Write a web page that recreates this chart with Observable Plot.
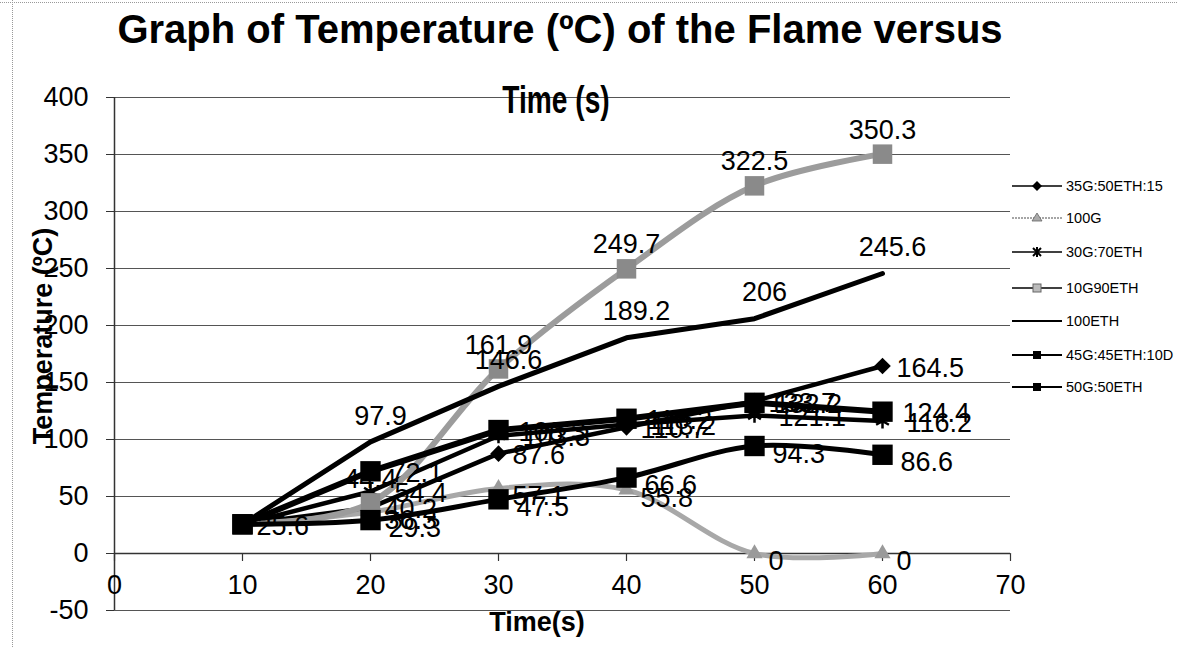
<!DOCTYPE html>
<html><head><meta charset="utf-8">
<script src="https://cdn.jsdelivr.net/npm/d3@7"></script>
<script src="https://cdn.jsdelivr.net/npm/@observablehq/plot@0.6"></script>
<style>
body{margin:0;background:#fff;font-family:"Liberation Sans",Arial,sans-serif;}
#wrap{position:relative;width:1177px;height:647px;overflow:hidden;background:#fff;}
#chart{position:absolute;left:0;top:0;}
#bl{position:absolute;left:12px;top:0;width:0;height:647px;border-left:1px dotted #999;}
#bt{position:absolute;left:0;top:2px;width:1177px;height:0;border-top:1px dotted #999;}
.t{position:absolute;font-weight:bold;color:#000;white-space:nowrap;}
#title1{left:560px;top:29px;font-size:40px;transform:translate(-50%,-50%);}
#title2{left:556px;top:100px;font-size:38px;transform:translate(-50%,-50%) scaleX(0.74);}
#ytitle{left:43px;top:336px;font-size:27px;transform:translate(-50%,-50%) rotate(-90deg);}
#xtitle{left:537px;top:622px;font-size:27px;transform:translate(-50%,-50%);}
#legend{position:absolute;left:1012px;top:0;}
.li{position:absolute;left:0;height:20px;display:flex;align-items:center;font-size:14.5px;white-space:nowrap;transform:translateY(-50%);}
.li svg{margin-right:2px;}
</style>
</head><body>
<div id="wrap">
  <div id="bl"></div><div id="bt"></div>
  <div id="chart"></div>
  <div class="t" id="title1">Graph of Temperature (ºC) of the Flame versus</div>
  <div class="t" id="title2">Time (s)</div>
  <div class="t" id="ytitle">Temperature (ºC)</div>
  <div class="t" id="xtitle">Time(s)</div>
  <div id="legend"></div>
</div>
<script>
// ---- data ----
const times = [10, 20, 30, 40, 50, 60];
const seriesNames = ["35G:50ETH:15", "100G", "30G:70ETH", "10G90ETH", "100ETH", "45G:45ETH:10D", "50G:50ETH"];
const s35G50ETH15 = [25.6, 40.2, 87.6, 110.7, 133.7, 164.5];
const s100G = [25.6, 36.3, 57.1, 55.8, 0, 0];
const s30G70ETH = [25.6, 54.4, 103.3, 113.2, 121.1, 116.2];
const s10G90ETH = [25.6, 44.4, 161.9, 249.7, 322.5, 350.3];
const s100ETH = [25.6, 97.9, 146.6, 189.2, 206, 245.6];
const s45G45ETH10D = [25.6, 72.1, 108.3, 118.2, 132.2, 124.4];
const s50G50ETH = [25.6, 29.3, 47.5, 66.6, 94.3, 86.6];
const xTicks = [0, 10, 20, 30, 40, 50, 60, 70];
const yTicks = [-50, 0, 50, 100, 150, 200, 250, 300, 350, 400];

const seriesValues = [s35G50ETH15, s100G, s30G70ETH, s10G90ETH, s100ETH, s45G45ETH10D, s50G50ETH];

// ---- styles ----
const styles = {
  "35G:50ETH:15": {stroke:"#000", sw:4.5, curve:"linear", symbol:"diamond2", r:7.5, fill:"#000", lab:{anchor:"start", dx:14, dy:2}},
  "100G": {stroke:"#a8a8a8", sw:5, curve:"catmull-rom", symbol:"triangle", r:6, fill:"#9a9a9a", lab:{anchor:"start", dx:14, dy:8}},
  "30G:70ETH": {stroke:"#000", sw:4.5, curve:"linear", symbol:"asterisk", r:7, fill:"none", lab:{anchor:"start", dx:24, dy:2}},
  "10G90ETH": {stroke:"#9c9c9c", sw:6, curve:"catmull-rom", symbol:"square", r:11, fill:"#8a8a8a", lab:{anchor:"middle", dx:0, dy:-24}},
  "100ETH": {stroke:"#000", sw:5, curve:"linear", symbol:null, lab:{anchor:"middle", dx:10, dy:-26}},
  "45G:45ETH:10D": {stroke:"#000", sw:6, curve:"linear", symbol:"square", r:11.5, fill:"#000", lab:{anchor:"start", dx:20, dy:2}},
  "50G:50ETH": {stroke:"#000", sw:5, curve:"catmull-rom", symbol:"square", r:11.5, fill:"#000", lab:{anchor:"start", dx:18, dy:8}}
};

const rows = [];
seriesNames.forEach((name, si) => {
  seriesValues[si].forEach((v, i) => rows.push({series: name, t: times[i], v}));
});

const lineMarks = [];
seriesNames.forEach(name => {
  const st = styles[name];
  const data = rows.filter(d => d.series === name);
  lineMarks.push(Plot.line(data, {x:"t", y:"v", stroke:st.stroke, strokeWidth:st.sw, curve:st.curve}));
  if (st.symbol) {
    if (st.symbol === "asterisk") {
      lineMarks.push(Plot.dot(data, {x:"t", y:"v", symbol:"asterisk", r:st.r, stroke:"#000", strokeWidth:2.5}));
    } else {
      lineMarks.push(Plot.dot(data, {x:"t", y:"v", symbol:st.symbol, r:st.r, fill:st.fill, stroke:"none"}));
    }
  }
});

const labelMarks = [];
seriesNames.forEach((name, si) => {
  const st = styles[name];
  // at t=10 all series share 25.6; their labels coincide, one is drawn
  const data = rows.filter(d => d.series === name && (d.t !== 10 || si === 0));
  labelMarks.push(Plot.text(data, {
    x:"t", y:"v", text: d => String(d.v),
    textAnchor: st.lab.anchor, dx: st.lab.dx, dy: st.lab.dy,
    fontSize: 27, fill:"#000"
  }));
});

const plot = Plot.plot({
  width:1177, height:647,
  marginLeft:114, marginRight:167, marginTop:97, marginBottom:37,
  x:{domain:[0,70], label:null, axis:null},
  y:{domain:[-50,400], label:null},
  style:{fontFamily:"Liberation Sans, Arial, sans-serif", background:"transparent", color:"#000"},
  marks:[
    Plot.ruleY(yTicks, {stroke:"#555", strokeWidth:1.2}),
    Plot.axisY({ticks:yTicks, tickFormat:d=>String(d), tickSize:8, tickPadding:18, fontSize:27, label:null, stroke:"#333"}),
    Plot.ruleX([0], {stroke:"#333", strokeWidth:1.5}),
    Plot.ruleY([0], {stroke:"#333", strokeWidth:1.5}),
    Plot.vector(xTicks, {x:d=>d, y:0, length:7, rotate:180, anchor:"start", stroke:"#333", strokeWidth:1.2, shape:{draw(ctx,l){ctx.moveTo(0,0);ctx.lineTo(0,-l);}}}),
    Plot.text(xTicks, {x:d=>d, y:0, dy:32, text:d=>String(d), fontSize:27, fill:"#000"}),
    ...lineMarks,
    ...labelMarks
  ]
});
document.getElementById("chart").appendChild(plot);

// ---- legend ----
const legendY = [186, 218, 252, 288, 321, 355, 387];
const legend = document.getElementById("legend");
const legendMarker = {
  "35G:50ETH:15": `<line x1="0" y1="7" x2="50" y2="7" stroke="#000" stroke-width="1.6"/><path d="M25,2 L30,7 L25,12 L20,7Z" fill="#000"/>`,
  "100G": `<line x1="0" y1="7" x2="50" y2="7" stroke="#888" stroke-width="1.6" stroke-dasharray="2,1"/><path d="M25,2 L30,10 L20,10Z" fill="#aaa" stroke="#666" stroke-width="0.8"/>`,
  "30G:70ETH": `<line x1="0" y1="7" x2="50" y2="7" stroke="#000" stroke-width="1.6"/><path d="M21,3 L29,11 M29,3 L21,11 M25,2 L25,12" stroke="#000" stroke-width="2"/>`,
  "10G90ETH": `<line x1="0" y1="7" x2="50" y2="7" stroke="#000" stroke-width="1.4"/><rect x="21" y="3" width="8" height="8" fill="#bbb" stroke="#666"/>`,
  "100ETH": `<line x1="0" y1="7" x2="50" y2="7" stroke="#000" stroke-width="1.8"/>`,
  "45G:45ETH:10D": `<line x1="0" y1="7" x2="50" y2="7" stroke="#000" stroke-width="1.8"/><rect x="21" y="3" width="8" height="8" fill="#000"/>`,
  "50G:50ETH": `<line x1="0" y1="7" x2="50" y2="7" stroke="#000" stroke-width="1.8"/><rect x="21" y="3" width="8" height="8" fill="#000"/>`
};
seriesNames.forEach((name, i) => {
  const el = document.createElement("div");
  el.className = "li";
  el.style.top = legendY[i] + "px";
  el.innerHTML = `<svg width="52" height="14">${legendMarker[name]}</svg><span>${name}</span>`;
  legend.appendChild(el);
});
</script>
</body></html>
